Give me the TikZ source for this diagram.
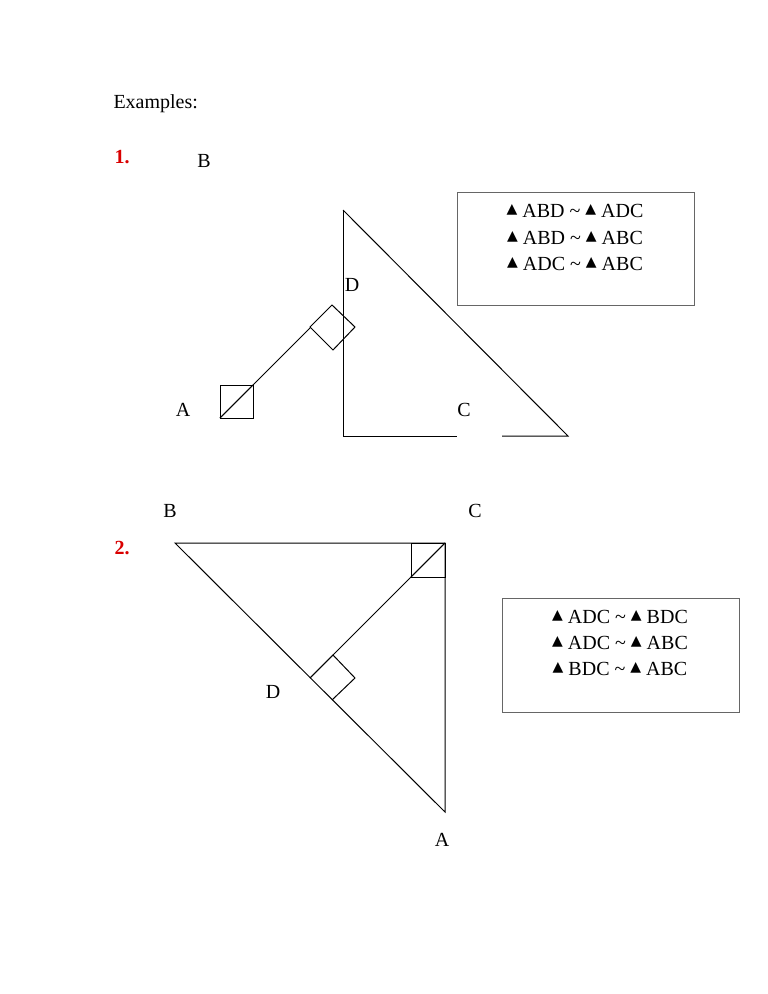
\documentclass[tikz,border=0pt]{standalone}
\usepackage{fontspec}
\setmainfont{Liberation Serif}
\newfontfamily\symfont{DejaVu Sans}
\newcommand{\tri}{{\symfont\fontsize{14}{14}\selectfont\raisebox{4pt}{▲}}\ }
\newcommand{\simto}{\ \textasciitilde\ }

\begin{document}
\begin{tikzpicture}[x=1pt,y=-1pt,line width=1pt,font=\fontsize{20}{24}\selectfont,
  lbl/.style={inner sep=0pt},
  num/.style={inner sep=0pt,text=red!85!black,font=\fontsize{20}{24}\selectfont\bfseries},
  simbox/.style={draw=black!60,line width=0.8pt}]
  \useasboundingbox (0,0) rectangle (768,994);
  \node [lbl,anchor=west] (ex) at (113,104) {Examples:};
  % first example
  \node [num] (n1) at (122,157) {1.};
  \node [lbl] (B1) at (204,161) {B};
  \node [lbl] (D1) at (352,285) {D};
  \node [lbl] (A1) at (183,410) {A};
  \node [lbl] (C1) at (464,410) {C};
  \coordinate (b1) at (343,210);
  \coordinate (c1) at (568,436);
  \coordinate (r1) at (343,436);
  \coordinate (a1) at (220,418);
  \draw (b1)--(r1)--(457,436);
  \draw (502,436)--(c1)--(b1);
  \draw (a1)--(311,327);
  \draw (220,385) rectangle (253,418);
  \draw (a1)--(253,385);
  \draw [fill=white] (310,327)--(332,305)--(355,327)--(333,350)--cycle;
  \draw (343,316)--(343,339);
  \draw [simbox] (457,192) rectangle (694,305);
  \node [lbl] (s11) at (575,211) {\tri ABD\simto\tri ADC};
  \node [lbl] (s12) at (575,238) {\tri ABD\simto\tri ABC};
  \node [lbl] (s13) at (575,264) {\tri ADC\simto\tri ABC};
  % second example
  \node [num] (n2) at (122,548) {2.};
  \node [lbl] (B2) at (170,511) {B};
  \node [lbl] (C2) at (475,511) {C};
  \node [lbl] (D2) at (273,692) {D};
  \node [lbl] (A2) at (442,840) {A};
  \coordinate (b2) at (175,543);
  \coordinate (c2) at (445,543);
  \coordinate (a2) at (445,812);
  \coordinate (d2) at (310,678);
  \draw (b2)--(c2)--(a2)--cycle;
  \draw (c2)--(d2);
  \draw (411,543) rectangle (445,577);
  \draw (411,577)--(c2);
  \draw (d2)--(333,655)--(355,678)--(332,700);
  \draw [simbox] (502,598) rectangle (739,712);
  \node [lbl] (s21) at (620,617) {\tri ADC\simto\tri BDC};
  \node [lbl] (s22) at (620,643) {\tri ADC\simto\tri ABC};
  \node [lbl] (s23) at (620,669) {\tri BDC\simto\tri ABC};
\end{tikzpicture}
\end{document}
